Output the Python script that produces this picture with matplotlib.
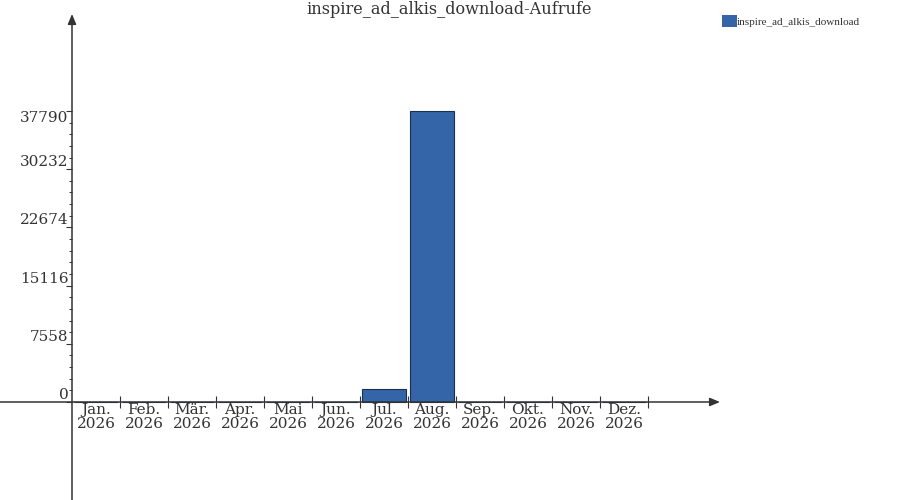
import matplotlib
matplotlib.use("Agg")
import matplotlib.pyplot as plt
from matplotlib.ticker import FixedLocator

# data
months = ["Jan.", "Feb.", "Mär.", "Apr.", "Mai", "Jun.", "Jul.", "Aug.", "Sep.", "Okt.", "Nov.", "Dez."]
year = "2026"
calls = [0, 0, 0, 0, 0, 0, 1690, 37790, 0, 0, 0, 0]
y_ticks = [0, 7558, 15116, 22674, 30232, 37790]
series_name = "inspire_ad_alkis_download"
title = "inspire_ad_alkis_download-Aufrufe"

bar_color = "#3465a8"
edge_color = "#1c2f4f"
axis_color = "#333333"
text_color = "#333333"

plt.rcParams["font.family"] = ["DejaVu Serif"]

fig = plt.figure(figsize=(9, 5), dpi=100)
ax = fig.add_axes([0, 0, 1, 1])

# pixel-ish layout: 48 px per month, y axis at x=72px, zero line at y=402px
px_y = 129.86
ax.set_xlim(-2.0, 16.75)
ax.set_ylim(-98 * px_y, 402 * px_y)

x = list(range(len(months)))
ax.bar(x, calls, width=0.92, color=bar_color, edgecolor=edge_color, linewidth=0.8,
       label=series_name, zorder=3)

# axes lines with arrows
for s in ["top", "right"]:
    ax.spines[s].set_visible(False)
ax.spines["left"].set_position(("data", -0.5))
ax.spines["bottom"].set_position(("data", 0))
ax.spines["left"].set_color("none")
ax.spines["bottom"].set_color("none")

y_lo, y_hi = ax.get_ylim()
x_lo, x_hi = ax.get_xlim()
ax.annotate("", xy=(-0.5, y_hi - 14 * px_y), xytext=(-0.5, y_lo),
            arrowprops=dict(arrowstyle="-|>,head_length=0.6,head_width=0.25",
                            color=axis_color, lw=1.1, shrinkA=0, shrinkB=0), zorder=4)
ax.annotate("", xy=(13.0, 0), xytext=(x_lo, 0),
            arrowprops=dict(arrowstyle="-|>,head_length=0.6,head_width=0.25",
                            color=axis_color, lw=1.1, shrinkA=0, shrinkB=0), zorder=4)

# y ticks: minor ticks split each major step in five, only within the tick range
step = y_ticks[1] / 5
minor = [i * step for i in range(int(round(y_ticks[-1] / step)) + 1)]
ax.yaxis.set_major_locator(FixedLocator(y_ticks))
ax.yaxis.set_minor_locator(FixedLocator(minor))
ax.set_yticklabels([str(v) for v in y_ticks])
ax.tick_params(axis="y", which="major", direction="out", length=4, width=0.8,
               color=axis_color, labelsize=11, labelcolor=text_color, pad=-1.5)
ax.tick_params(axis="y", which="minor", direction="out", length=2.5, width=0.7,
               color=axis_color)
labels = ax.get_yticklabels()
for i, lbl in enumerate(labels):
    lbl.set_va("top" if i == len(labels) - 1 else "bottom")

# x ticks: boundaries as tick marks, month labels at centers
ax.xaxis.set_major_locator(FixedLocator([i + 0.5 for i in x]))
ax.xaxis.set_minor_locator(FixedLocator(x))
ax.set_xticklabels([])
ax.set_xticklabels([f"{m}\n{year}" for m in months], minor=True)
ax.tick_params(axis="x", which="major", direction="inout", length=8, width=0.8,
               color=axis_color)
ax.tick_params(axis="x", which="minor", length=0, labelsize=11,
               labelcolor=text_color, pad=1)
for lbl in ax.get_xticklabels(minor=True):
    lbl.set_linespacing(0.95)

fig.text(0.499, 1 - 9 / 500, title, ha="center", va="center", fontsize=11.6, color=text_color)

leg = ax.legend(loc="upper left", bbox_to_anchor=(722 / 900, 1 - 15 / 500), frameon=False,
                handlelength=1.35, handleheight=1.35, handletextpad=0.0, borderpad=0,
                borderaxespad=0, prop={"family": "Liberation Serif", "size": 8})
for t in leg.get_texts():
    t.set_color(text_color)
for h in leg.legend_handles:
    h.set_edgecolor("none")

fig.savefig("out.png", dpi=100)
